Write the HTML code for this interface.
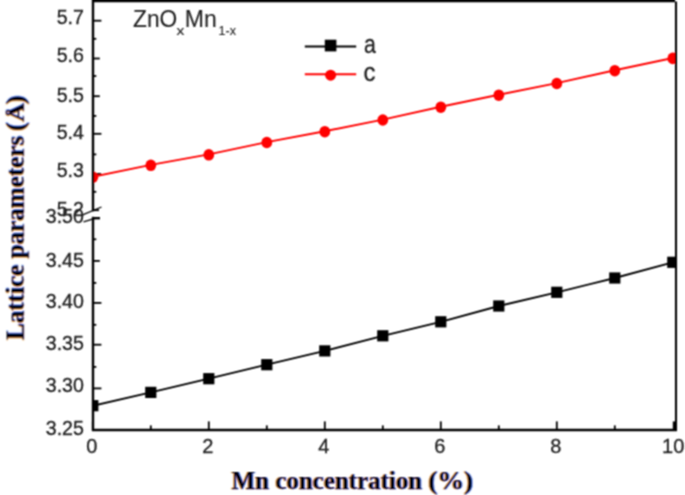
<!DOCTYPE html><html><head><meta charset="utf-8"><title>Lattice parameters</title><style>html,body{margin:0;padding:0;background:#fff}svg{display:block}</style></head><body><svg width="685" height="495" viewBox="0 0 685 495">
<defs><clipPath id="plot"><rect x="93" y="0" width="582.5" height="431"/></clipPath></defs>
<rect width="685" height="495" fill="#fff"/>
<filter id="soft" x="0" y="0" width="685" height="495" filterUnits="userSpaceOnUse"><feConvolveMatrix order="3" kernelMatrix="1 2 1 2 4 2 1 2 1" divisor="16" edgeMode="duplicate"/></filter>
<filter id="ct" x="-5%" y="-20%" width="110%" height="140%"><feFlood flood-color="#e8902a" flood-opacity="0.6" result="o"/><feOffset in="SourceAlpha" dx="-0.6" result="a1"/><feComposite in="o" in2="a1" operator="in" result="orange"/><feFlood flood-color="#2a5ae0" flood-opacity="0.6" result="b"/><feOffset in="SourceAlpha" dx="0.6" result="a2"/><feComposite in="b" in2="a2" operator="in" result="blue"/><feMerge><feMergeNode in="orange"/><feMergeNode in="blue"/><feMergeNode in="SourceGraphic"/></feMerge></filter>
<g filter="url(#soft)">
<g stroke="#000" stroke-width="1.8">
<line x1="93.0" x2="101.4" y1="20.7" y2="20.7"/>
<line x1="93.0" x2="99.8" y1="58.5" y2="58.5"/>
<line x1="93.0" x2="99.8" y1="96.2" y2="96.2"/>
<line x1="93.0" x2="101.4" y1="133.8" y2="133.8"/>
<line x1="93.0" x2="101.2" y1="173.9" y2="173.9"/>
<line x1="93.0" x2="99.0" y1="210.2" y2="210.2"/>
<line x1="93.0" x2="99.8" y1="260.9" y2="260.9"/>
<line x1="93.0" x2="101.4" y1="302.9" y2="302.9"/>
<line x1="93.0" x2="101.4" y1="344.7" y2="344.7"/>
<line x1="93.0" x2="101.4" y1="388.4" y2="388.4"/>
<line x1="93.0" x2="96.3" y1="38.8" y2="38.8"/>
<line x1="93.0" x2="96.3" y1="76.0" y2="76.0"/>
<line x1="93.0" x2="96.3" y1="115.9" y2="115.9"/>
<line x1="93.0" x2="96.3" y1="154.4" y2="154.4"/>
<line x1="93.0" x2="96.3" y1="191.8" y2="191.8"/>
<line x1="93.0" x2="96.3" y1="239.3" y2="239.3"/>
<line x1="93.0" x2="96.3" y1="282.9" y2="282.9"/>
<line x1="93.0" x2="96.3" y1="324.8" y2="324.8"/>
<line x1="93.0" x2="96.3" y1="366.9" y2="366.9"/>
<line x1="93.0" x2="96.3" y1="409.5" y2="409.5"/>
<line x1="92.8" x2="92.8" y1="430.0" y2="421.4"/>
<line x1="150.8" x2="150.8" y1="430.0" y2="425.4"/>
<line x1="208.8" x2="208.8" y1="430.0" y2="421.4"/>
<line x1="266.8" x2="266.8" y1="430.0" y2="425.4"/>
<line x1="324.8" x2="324.8" y1="430.0" y2="421.4"/>
<line x1="382.8" x2="382.8" y1="430.0" y2="425.4"/>
<line x1="440.8" x2="440.8" y1="430.0" y2="421.4"/>
<line x1="498.8" x2="498.8" y1="430.0" y2="425.4"/>
<line x1="556.8" x2="556.8" y1="430.0" y2="421.4"/>
<line x1="614.8" x2="614.8" y1="430.0" y2="425.4"/>
<line x1="674.0" x2="674.0" y1="430.0" y2="421.4" stroke-width="2.4"/>
<line x1="82" x2="101.5" y1="215.2" y2="207" stroke-width="1.3"/>
<line x1="83.5" x2="95" y1="221.8" y2="218.3" stroke-width="1.3"/>
<line x1="94" x2="100" y1="218.2" y2="218.2" stroke-width="2.4"/>
</g>
<g clip-path="url(#plot)">
<polyline points="92.8,405.7 150.8,392.4 208.8,378.7 266.8,364.7 324.8,350.9 382.8,335.8 440.8,321.8 498.8,306.0 556.8,292.3 614.8,278.0 672.8,262.3" fill="none" stroke="#000" stroke-width="1.9"/>
<rect x="87.2" y="400.1" width="11.2" height="11.2" fill="#000"/>
<rect x="145.2" y="386.8" width="11.2" height="11.2" fill="#000"/>
<rect x="203.2" y="373.1" width="11.2" height="11.2" fill="#000"/>
<rect x="261.2" y="359.1" width="11.2" height="11.2" fill="#000"/>
<rect x="319.2" y="345.3" width="11.2" height="11.2" fill="#000"/>
<rect x="377.2" y="330.2" width="11.2" height="11.2" fill="#000"/>
<rect x="435.2" y="316.2" width="11.2" height="11.2" fill="#000"/>
<rect x="493.2" y="300.4" width="11.2" height="11.2" fill="#000"/>
<rect x="551.2" y="286.7" width="11.2" height="11.2" fill="#000"/>
<rect x="609.2" y="272.4" width="11.2" height="11.2" fill="#000"/>
<rect x="667.2" y="256.7" width="11.2" height="11.2" fill="#000"/>
<polyline points="92.8,176.8 150.8,164.9 208.8,154.4 266.8,142.1 324.8,131.3 382.8,119.6 440.8,106.8 498.8,94.8 556.8,83.1 614.8,70.3 672.8,58.0" fill="none" stroke="#f00" stroke-width="1.9"/>
<ellipse cx="92.8" cy="177.2" rx="5.4" ry="5.8" fill="#f00"/>
<ellipse cx="150.8" cy="165.3" rx="5.4" ry="5.8" fill="#f00"/>
<ellipse cx="208.8" cy="154.8" rx="5.4" ry="5.8" fill="#f00"/>
<ellipse cx="266.8" cy="142.5" rx="5.4" ry="5.8" fill="#f00"/>
<ellipse cx="324.8" cy="131.7" rx="5.4" ry="5.8" fill="#f00"/>
<ellipse cx="382.8" cy="120.0" rx="5.4" ry="5.8" fill="#f00"/>
<ellipse cx="440.8" cy="107.2" rx="5.4" ry="5.8" fill="#f00"/>
<ellipse cx="498.8" cy="95.2" rx="5.4" ry="5.8" fill="#f00"/>
<ellipse cx="556.8" cy="83.5" rx="5.4" ry="5.8" fill="#f00"/>
<ellipse cx="614.8" cy="70.7" rx="5.4" ry="5.8" fill="#f00"/>
<ellipse cx="672.8" cy="58.4" rx="5.4" ry="5.8" fill="#f00"/>
</g>
<g stroke="#000" fill="none" stroke-linecap="butt">
<path d="M93.0 211.3 V0" stroke-width="2.4"/>
<path d="M92.0 0.9 H675" stroke-width="2.6"/>
<path d="M676.0 1.6 V431.0" stroke-width="2.1" stroke="#000"/>
<path d="M93.0 216.8 V431.0" stroke-width="2.4"/>
<path d="M92.0 430.0 H676.9" stroke-width="2.5"/>
</g>
<line x1="304.8" x2="356.2" y1="46.4" y2="46.4" stroke="#000" stroke-width="2"/>
<rect x="324.8" y="39.7" width="11.6" height="11.7" fill="#000"/>
<line x1="304.8" x2="356.2" y1="74.3" y2="74.3" stroke="#f00" stroke-width="2"/>
<circle cx="330.6" cy="75.2" r="5.5" fill="#f00"/>
<g font-family="Liberation Sans, Arial, sans-serif" fill="#222" stroke="#222" stroke-width="0.3">
<text transform="translate(363.9,53.3) scale(0.82,1)" font-size="26" text-anchor="start">a</text>
<text transform="translate(363.6,81.4) scale(0.92,1)" font-size="26" text-anchor="start">c</text>
<text transform="translate(133,27.3) scale(0.93,1)" font-size="24.5" text-anchor="start" stroke-width="0.1">ZnO</text>
<text transform="translate(176.6,34.6) scale(1.25,1)" font-size="12.5" text-anchor="start" stroke-width="0.1">x</text>
<text transform="translate(184.8,27.3) scale(0.94,1)" font-size="24.5" text-anchor="start" stroke-width="0.1">Mn</text>
<text transform="translate(218.6,34.6) scale(1.0,1)" font-size="12.5" text-anchor="start" stroke-width="0.1">1-x</text>
<text transform="translate(83.9,24.0) scale(1.0,1)" font-size="19.6" text-anchor="end">5.7</text>
<text transform="translate(83.9,62.0) scale(1.0,1)" font-size="19.6" text-anchor="end">5.6</text>
<text transform="translate(83.9,101.5) scale(1.0,1)" font-size="19.6" text-anchor="end">5.5</text>
<text transform="translate(83.9,139.1) scale(1.0,1)" font-size="19.6" text-anchor="end">5.4</text>
<text transform="translate(83.9,177.0) scale(1.0,1)" font-size="19.6" text-anchor="end">5.3</text>
<text transform="translate(83.9,215.5) scale(1.0,1)" font-size="19.6" text-anchor="end">5.2</text>
<text transform="translate(83.9,222.5) scale(1.0,1)" font-size="19.6" text-anchor="end">3.50</text>
<text transform="translate(83.9,266.7) scale(1.0,1)" font-size="19.6" text-anchor="end">3.45</text>
<text transform="translate(83.9,308.2) scale(1.0,1)" font-size="19.6" text-anchor="end">3.40</text>
<text transform="translate(83.9,350.2) scale(1.0,1)" font-size="19.6" text-anchor="end">3.35</text>
<text transform="translate(83.9,392.0) scale(1.0,1)" font-size="19.6" text-anchor="end">3.30</text>
<text transform="translate(83.9,435.4) scale(1.0,1)" font-size="19.6" text-anchor="end">3.25</text>
<text transform="translate(91.8,453.2) scale(1.0,1)" font-size="20" text-anchor="middle">0</text>
<text transform="translate(207.8,453.2) scale(1.0,1)" font-size="20" text-anchor="middle">2</text>
<text transform="translate(323.8,453.2) scale(1.0,1)" font-size="20" text-anchor="middle">4</text>
<text transform="translate(439.8,453.2) scale(1.0,1)" font-size="20" text-anchor="middle">6</text>
<text transform="translate(555.8,453.2) scale(1.0,1)" font-size="20" text-anchor="middle">8</text>
<text transform="translate(673.2,453.2) scale(1.0,1)" font-size="20" text-anchor="middle">10</text>
</g>
<g font-family="Liberation Serif, Times New Roman, serif" font-weight="bold" fill="#04040c" stroke="#04040c" stroke-width="0.25">
<text filter="url(#ct)" x="231.6" y="489" font-size="25"><tspan textLength="196.6" lengthAdjust="spacingAndGlyphs">Mn concentration </tspan><tspan x="428.3" textLength="44.6" lengthAdjust="spacingAndGlyphs">(%)</tspan></text>
<text filter="url(#ct)" transform="translate(23.6,340) rotate(-90)" font-size="26"><tspan textLength="210.3" lengthAdjust="spacingAndGlyphs">Lattice parameters </tspan><tspan x="208.9">(</tspan><tspan x="218.3" font-size="21" textLength="18.5" lengthAdjust="spacingAndGlyphs">Å</tspan><tspan x="235.8">)</tspan></text>
</g>
</g>
</svg></body></html>
